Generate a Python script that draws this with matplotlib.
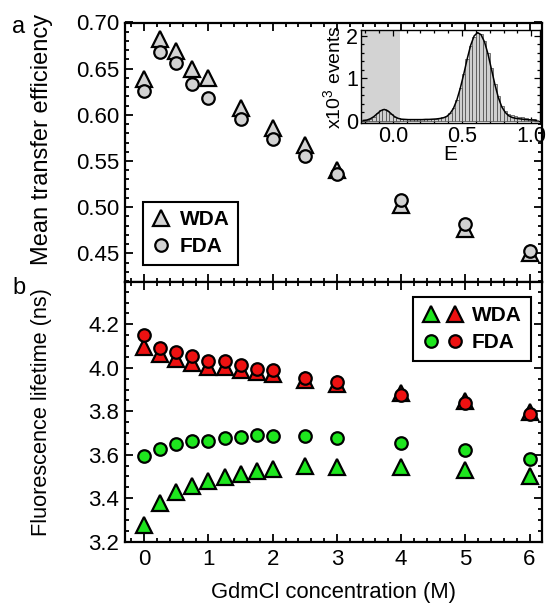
import matplotlib
matplotlib.use("Agg")
import matplotlib.pyplot as plt
from matplotlib.lines import Line2D
from matplotlib.legend_handler import HandlerTuple
from matplotlib.ticker import MultipleLocator
import numpy as np

plt.rcParams['font.family'] = ['Liberation Sans', 'DejaVu Sans']
plt.rcParams['mathtext.fontset'] = 'custom'
plt.rcParams['mathtext.rm'] = 'Liberation Sans'

# ---------------- data ----------------
conc_E = [0, 0.25, 0.5, 0.75, 1.0, 1.5, 2.0, 2.5, 3.0, 4.0, 5.0, 6.0]
E_wda = [0.639, 0.682, 0.669, 0.650, 0.640, 0.607, 0.586, 0.567, 0.540, 0.502, 0.476, 0.450]
E_fda = [0.626, 0.668, 0.656, 0.633, 0.618, 0.596, 0.574, 0.555, 0.536, 0.508, 0.482, 0.453]

conc_tau = [0, 0.25, 0.5, 0.75, 1.0, 1.25, 1.5, 1.75, 2.0, 2.5, 3.0, 4.0, 5.0, 6.0]
tau_wda_green = [3.277, 3.377, 3.430, 3.458, 3.479, 3.496, 3.511, 3.525, 3.534, 3.548, 3.545, 3.542, 3.530, 3.502]
tau_fda_green = [3.594, 3.625, 3.649, 3.663, 3.665, 3.678, 3.683, 3.689, 3.685, 3.686, 3.677, 3.653, 3.622, 3.579]
tau_wda_red = [4.094, 4.062, 4.039, 4.023, 4.005, 4.002, 3.990, 3.982, 3.970, 3.944, 3.925, 3.883, 3.847, 3.798]
tau_fda_red = [4.151, 4.090, 4.074, 4.056, 4.033, 4.031, 4.013, 3.994, 3.990, 3.954, 3.933, 3.875, 3.839, 3.787]

# inset histogram (x10^3 events)
hist_left = -0.225
hist_width = 0.025
hist_counts = [0.01, 0.02, 0.05, 0.10, 0.18, 0.25, 0.27, 0.23, 0.16, 0.10,
               0.07, 0.05, 0.04, 0.04, 0.035, 0.035, 0.035, 0.035, 0.04, 0.04,
               0.045, 0.05, 0.06, 0.08, 0.11, 0.18, 0.30, 0.50, 0.78, 1.10,
               1.45, 1.76, 1.98, 2.07, 2.05, 1.88, 1.60, 1.24, 0.88, 0.58,
               0.36, 0.24, 0.17, 0.14, 0.12, 0.10, 0.08, 0.07, 0.05, 0.04, 0.03]
fit_curve = [0.01, 0.02, 0.05, 0.10, 0.17, 0.24, 0.27, 0.24, 0.17, 0.10,
             0.06, 0.04, 0.035, 0.03, 0.03, 0.03, 0.03, 0.03, 0.035, 0.035,
             0.04, 0.045, 0.055, 0.07, 0.10, 0.17, 0.29, 0.49, 0.77, 1.10,
             1.46, 1.78, 2.00, 2.08, 2.03, 1.86, 1.58, 1.22, 0.86, 0.55,
             0.33, 0.20, 0.12, 0.08, 0.06, 0.05, 0.04, 0.03, 0.025, 0.02, 0.015]
donor_only_limit = 0.05

# ---------------- figure ----------------
W, H = 548, 606
fig = plt.figure(figsize=(W / 100, H / 100), dpi=100)

L, R = 125 / W, 541.7 / W
yt_top, yt_bot = 1 - 22.5 / H, 1 - 281.7 / H
yb_bot = 1 - 541.7 / H
ax1 = fig.add_axes([L, yt_bot, R - L, yt_top - yt_bot])
ax2 = fig.add_axes([L, yb_bot, R - L, yt_bot - yb_bot])

GRAY = '#d3d3d3'
GREEN = '#1ee61e'
RED = '#ee1111'
mew = 1.6
TICK_FS = 16

def style(ax, fs=TICK_FS):
    for s in ax.spines.values():
        s.set_linewidth(1.6)
    ax.tick_params(which='both', direction='in', top=True, right=True,
                   width=1.3, labelsize=fs, pad=4)
    ax.tick_params(which='major', length=6)
    ax.tick_params(which='minor', length=3)

# top panel
ax1.plot(conc_E, E_wda, linestyle='none', marker='^', ms=11, mfc=GRAY,
         mec='black', mew=mew, zorder=3)
ax1.plot(conc_E, E_fda, linestyle='none', marker='o', ms=9, mfc=GRAY,
         mec='black', mew=mew, zorder=4)
ax1.set_xlim(-0.3, 6.19)
ax1.set_ylim(0.4193, 0.7)
ax1.yaxis.set_major_locator(MultipleLocator(0.05))
ax1.yaxis.set_minor_locator(MultipleLocator(0.01))
ax1.xaxis.set_major_locator(MultipleLocator(1))
ax1.xaxis.set_minor_locator(MultipleLocator(0.2))
ax1.yaxis.set_major_formatter(plt.FormatStrFormatter('%.2f'))
style(ax1)
ax1.tick_params(labelbottom=False)
ax1.set_ylabel('Mean transfer efficiency', fontsize=17)
ax1.yaxis.set_label_coords(-0.172, 0.547)

h_tri = Line2D([], [], linestyle='none', marker='^', ms=11, mfc=GRAY, mec='black', mew=mew)
h_circ = Line2D([], [], linestyle='none', marker='o', ms=9, mfc=GRAY, mec='black', mew=mew)
leg1 = ax1.legend([h_tri, h_circ], ['WDA', 'FDA'], loc='upper left',
                  bbox_to_anchor=(142.7 / W, 1 - 201.7 / H), bbox_transform=fig.transFigure,
                  borderaxespad=0, prop={'weight': 'bold', 'size': 15},
                  fancybox=False, framealpha=1, edgecolor='black',
                  handlelength=0.9, handletextpad=0.45, borderpad=0.42, labelspacing=0.38)
leg1.get_frame().set_linewidth(1.5)

# bottom panel
ax2.plot(conc_tau, tau_wda_green, linestyle='none', marker='^', ms=11, mfc=GREEN,
         mec='black', mew=mew, zorder=3)
ax2.plot(conc_tau, tau_fda_green, linestyle='none', marker='o', ms=9, mfc=GREEN,
         mec='black', mew=mew, zorder=4)
ax2.plot(conc_tau, tau_wda_red, linestyle='none', marker='^', ms=11, mfc=RED,
         mec='black', mew=mew, zorder=3)
ax2.plot(conc_tau, tau_fda_red, linestyle='none', marker='o', ms=9, mfc=RED,
         mec='black', mew=mew, zorder=4)
ax2.set_xlim(-0.3, 6.19)
ax2.set_ylim(3.2, 4.396)
ax2.yaxis.set_major_locator(MultipleLocator(0.2))
ax2.yaxis.set_minor_locator(MultipleLocator(0.05))
ax2.xaxis.set_major_locator(MultipleLocator(1))
ax2.xaxis.set_minor_locator(MultipleLocator(0.2))
ax2.yaxis.set_major_formatter(plt.FormatStrFormatter('%.1f'))
style(ax2)
ax2.tick_params(axis='x', pad=5)
ax2.set_ylabel('Fluorescence lifetime (ns)', fontsize=15.7)
ax2.yaxis.set_label_coords(-0.176, 0.5)
ax2.set_xlabel('GdmCl concentration (M)', fontsize=15.8, labelpad=9)

hg_t = Line2D([], [], linestyle='none', marker='^', ms=11, mfc=GREEN, mec='black', mew=mew)
hr_t = Line2D([], [], linestyle='none', marker='^', ms=11, mfc=RED, mec='black', mew=mew)
hg_c = Line2D([], [], linestyle='none', marker='o', ms=9, mfc=GREEN, mec='black', mew=mew)
hr_c = Line2D([], [], linestyle='none', marker='o', ms=9, mfc=RED, mec='black', mew=mew)
leg2 = ax2.legend([(hg_t, hr_t), (hg_c, hr_c)], ['WDA', 'FDA'], loc='upper right',
                  bbox_to_anchor=(530.7 / W, 1 - 297.3 / H), bbox_transform=fig.transFigure,
                  borderaxespad=0, prop={'weight': 'bold', 'size': 15},
                  handler_map={tuple: HandlerTuple(ndivide=None, pad=0.3)},
                  fancybox=False, framealpha=1, edgecolor='black',
                  handlelength=2.0, handletextpad=0.4, borderpad=0.42, labelspacing=0.38)
leg2.get_frame().set_linewidth(1.5)

# panel letters
fig.text(19 / W, 1 - 27 / H, 'a', fontsize=17, ha='center', va='center')
fig.text(19 / W, 1 - 288 / H, 'b', fontsize=17, ha='center', va='center')

# inset
axi = fig.add_axes([361 / W, 1 - 123 / H, (539.5 - 361) / W, (123 - 30) / H])
axi.axvspan(-0.23, donor_only_limit, color=GRAY, lw=0, zorder=0)
centers = [hist_left + hist_width * (i + 0.5) for i in range(len(hist_counts))]
axi.bar(centers, hist_counts, width=hist_width, color='#cfcfcf',
        edgecolor='#444444', linewidth=0.5, zorder=2)
axi.plot(centers, fit_curve, color='black', lw=1.1, zorder=3)
axi.set_xlim(-0.23, 1.06)
axi.set_ylim(-0.05, 2.14)
axi.xaxis.set_major_locator(MultipleLocator(0.5))
axi.xaxis.set_minor_locator(MultipleLocator(0.1))
axi.yaxis.set_major_locator(MultipleLocator(1))
axi.yaxis.set_minor_locator(MultipleLocator(0.2))
axi.xaxis.set_major_formatter(plt.FormatStrFormatter('%.1f'))
for s in axi.spines.values():
    s.set_linewidth(1.0)
axi.tick_params(which='both', direction='in', top=True, right=True, width=0.9,
                labelsize=15.5, pad=2)
axi.tick_params(which='major', length=4)
axi.tick_params(which='minor', length=2)
axi.set_xlabel('E', fontsize=15, labelpad=-1)
axi.set_ylabel('x10$^3$ events', fontsize=14, labelpad=1)

fig.savefig('out.png', dpi=100)
